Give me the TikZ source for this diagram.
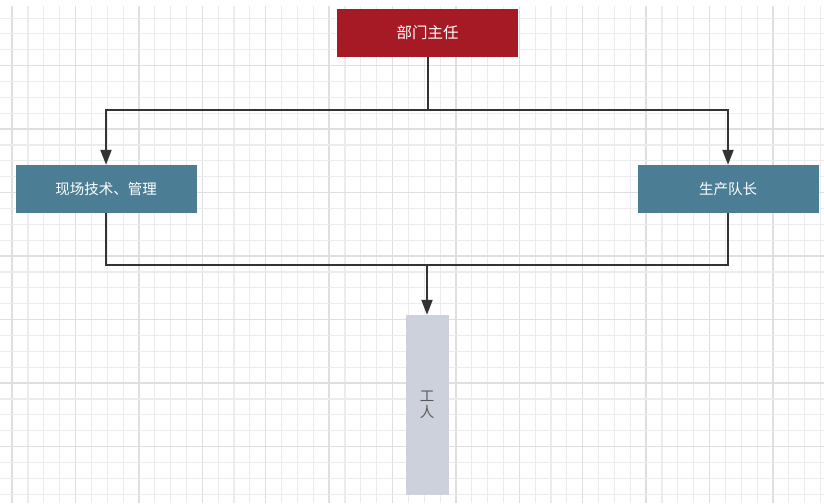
\documentclass[tikz,border=0pt]{standalone}
\usepackage{fontspec}
\newfontfamily\cjk{Noto Sans CJK SC}
\usetikzlibrary{arrows.meta}
\definecolor{headred}{HTML}{A51A24}
\definecolor{teamteal}{HTML}{4B7E95}
\definecolor{workgray}{HTML}{CDD1DC}
\definecolor{linedark}{HTML}{333333}
\definecolor{gridminor}{HTML}{ECECEC}
\definecolor{gridmajor}{HTML}{DFDFDF}
\tikzset{
  box/.style={draw=none, minimum width=181pt, minimum height=48pt, inner sep=0pt,
    font=\cjk\fontsize{14.5}{16}\selectfont, text=white},
  link/.style={draw=linedark, line width=2pt},
  linkarrow/.style={link, -{Triangle[length=15pt,width=11pt]}}
}
\begin{document}
\begin{tikzpicture}[x=1pt,y=-1pt]
\useasboundingbox (0,0) rectangle (824,503);
\fill[white] (0,0) rectangle (824,503);
% background grid: minor lines, with a stronger line every fourth step
\foreach \i in {0,...,52} {
  \pgfmathsetmacro{\gx}{12.1+15.85*\i}
  \pgfmathtruncatemacro{\m}{mod(\i,4)}
  \ifnum\m=0
    \draw[gridmajor, line width=1.4pt] (\gx,6) -- (\gx,503);
  \else
    \draw[gridminor, line width=1.1pt] (\gx,6) -- (\gx,503);
  \fi
}
\foreach \j in {1,...,32} {
  \pgfmathsetmacro{\gy}{2.2+15.87*\j}
  \pgfmathtruncatemacro{\m}{mod(\j,4)}
  \ifnum\m=0
    \draw[gridmajor, line width=1.4pt] (0,\gy) -- (824,\gy);
  \else
    \draw[gridminor, line width=1.1pt] (0,\gy) -- (824,\gy);
  \fi
}
% boxes
\node[box, fill=headred, font=\cjk\fontsize{15.5}{17}\selectfont] (head) at (427.5,33) {部门主任};
\node[box, fill=teamteal] (tech) at (106,189) {现场技术、管理};
\node[box, fill=teamteal] (lead) at (728,189) {生产队长};
\node[box, fill=workgray, minimum width=43pt, minimum height=180pt, text=black!65,
      align=center, font=\cjk\fontsize{14.5}{16.5}\selectfont] (work) at (427,405) {工\\人};
% junctions
\coordinate (split) at (head.south |- 0,110);
\coordinate (merge) at (work.north |- 0,265);
% connectors
\draw[link] (head.south) -- (split);
\draw[linkarrow] (split) -| (tech.north);
\draw[linkarrow] (split) -| (lead.north);
\draw[link] (tech.south) |- (merge);
\draw[link] (lead.south) |- (merge);
\draw[linkarrow] (merge) -- (work.north);
\end{tikzpicture}
\end{document}
